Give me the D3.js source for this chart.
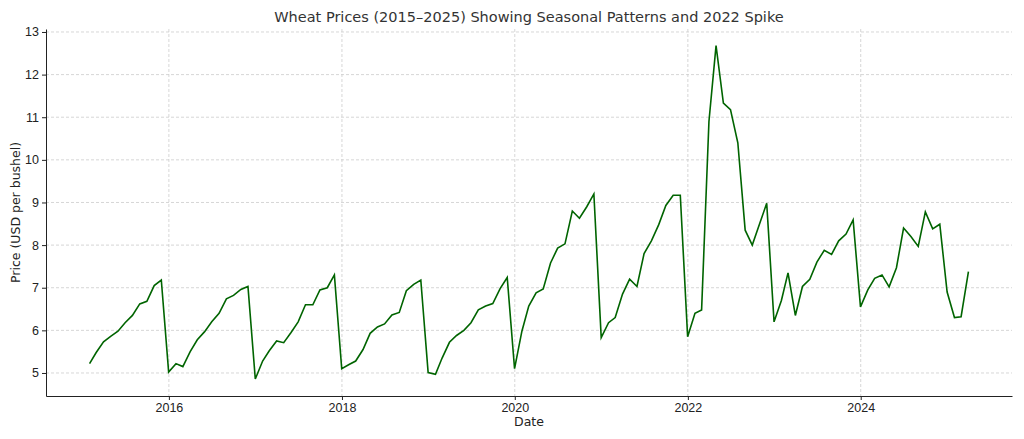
<!DOCTYPE html>
<html><head><meta charset="utf-8">
<script src="https://cdn.jsdelivr.net/npm/d3@7"></script>
<style>body{margin:0;background:#fff}svg{font-family:"DejaVu Sans",sans-serif}</style>
</head><body><svg id="c" width="1024" height="439"></svg>
<script>
const startYear = 2015;
const prices = [
5.22,5.48,5.73,5.86,5.98,6.18,6.35,6.62,6.68,7.05,7.18,5.02,
5.22,5.15,5.50,5.78,5.97,6.20,6.40,6.74,6.82,6.96,7.03,4.86,
5.28,5.52,5.75,5.71,5.95,6.20,6.60,6.60,6.95,7.00,7.30,5.10,
5.20,5.28,5.55,5.93,6.08,6.15,6.36,6.42,6.93,7.08,7.18,5.01,
4.97,5.35,5.72,5.88,6.00,6.18,6.48,6.57,6.63,6.98,7.24,5.10,
5.98,6.57,6.88,6.97,7.58,7.93,8.03,8.80,8.63,8.90,9.20,5.83,
6.18,6.30,6.85,7.20,7.03,7.80,8.10,8.48,8.93,9.17,9.17,5.85,
6.40,6.48,10.90,12.68,11.33,11.18,10.40,8.35,8.00,8.50,8.98,6.20,
6.70,7.35,6.35,7.03,7.20,7.60,7.88,7.78,8.10,8.26,8.59,6.55,
6.95,7.22,7.30,7.02,7.47,8.40,8.20,7.97,8.78,8.38,8.49,6.90,
6.30,6.32,7.38];
const xTicks = [2016,2018,2020,2022,2024];
const yTicks = [5,6,7,8,9,10,11,12,13];
const title = "Wheat Prices (2015–2025) Showing Seasonal Patterns and 2022 Spike";

const data = prices.map((v,i)=>({d:new Date(startYear, i+1, 0), v}));
const L=46,R=1012,T=29,B=396;
const svg=d3.select("#c");
const x=d3.scaleTime().domain([new Date(2014,6,31), new Date(2025,9,1)]).range([L,R]);
const y=d3.scaleLinear().domain([4.46,13.07]).range([B,T]);
const g=svg.append("g");
xTicks.forEach(t=>g.append("line").attr("x1",x(new Date(t,0,1))).attr("x2",x(new Date(t,0,1))).attr("y1",T).attr("y2",B).attr("stroke","#cccccc").attr("stroke-width",0.8).attr("stroke-dasharray","3,2"));
yTicks.forEach(t=>g.append("line").attr("x1",L).attr("x2",R).attr("y1",y(t)).attr("y2",y(t)).attr("stroke","#cccccc").attr("stroke-width",0.8).attr("stroke-dasharray","3,2"));
svg.append("path").datum(data).attr("fill","none").attr("stroke","#006400").attr("stroke-width",1.6)
 .attr("d",d3.line().x(d=>x(d.d)).y(d=>y(d.v)));
const xa=svg.append("g").attr("transform",`translate(0,${B})`).call(d3.axisBottom(x).tickValues(xTicks.map(t=>new Date(t,0,1))).tickFormat(d3.timeFormat("%Y")).tickSize(4).tickSizeOuter(0));
const ya=svg.append("g").attr("transform",`translate(${L},0)`).call(d3.axisLeft(y).tickValues(yTicks).tickSize(4).tickSizeOuter(0));
[xa,ya].forEach(a=>{a.selectAll("text").attr("font-size",12.5).attr("fill","#222");a.select(".domain").attr("stroke","#222");a.selectAll(".tick line").attr("stroke","#222");});
svg.append("text").attr("x",(L+R)/2).attr("y",22).attr("text-anchor","middle").attr("font-size",14.5).attr("fill","#333").text(title);
svg.append("text").attr("x",(L+R)/2).attr("y",426).attr("text-anchor","middle").attr("font-size",12.5).attr("fill","#222").text("Date");
svg.append("text").attr("transform",`translate(20,${(T+B)/2}) rotate(-90)`).attr("text-anchor","middle").attr("font-size",12.5).attr("fill","#222").text("Price (USD per bushel)");
</script></body></html>
